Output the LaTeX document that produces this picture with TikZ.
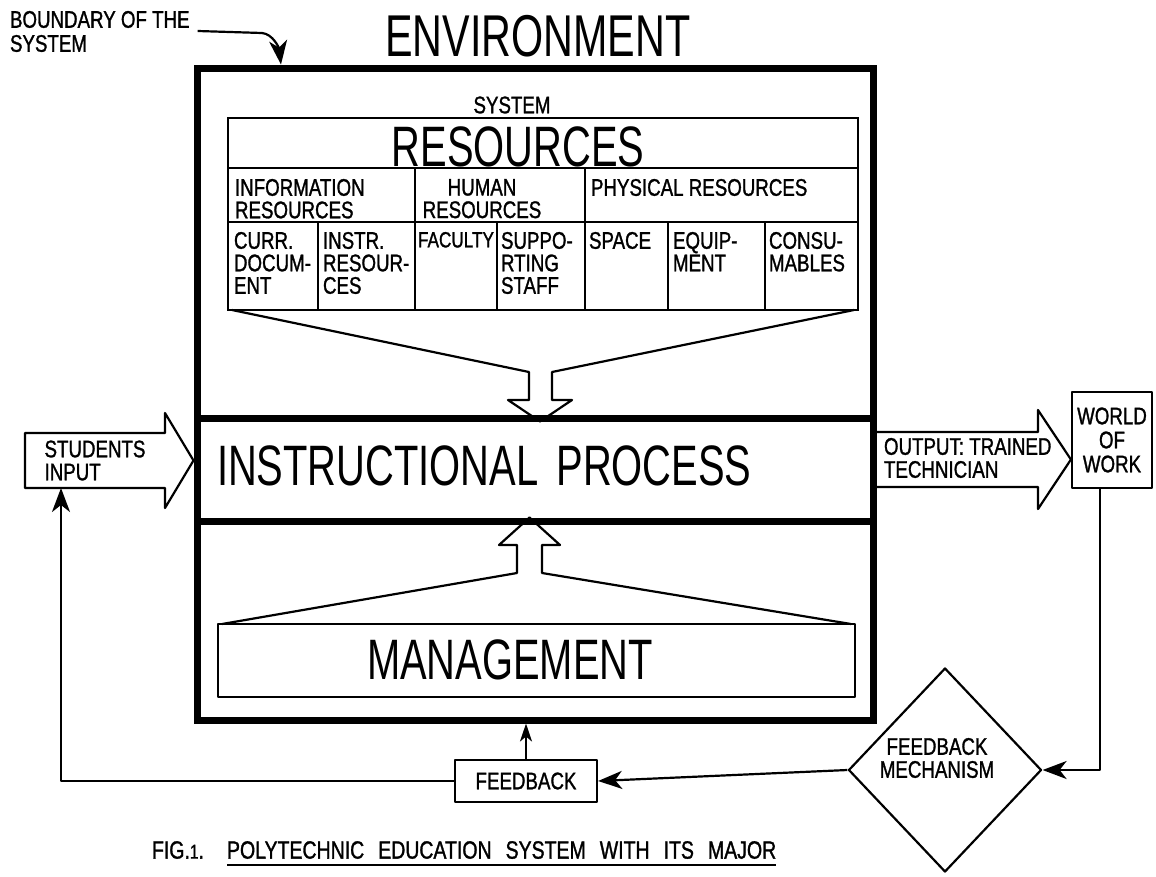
\documentclass[tikz,border=0pt]{standalone}
\usepackage{fontspec}
\setmainfont{Liberation Sans}[FakeStretch=0.78, FakeBold=1.2]
\newfontfamily\bigfam{Liberation Sans}[FakeStretch=0.7]
\usetikzlibrary{shapes.geometric,arrows.meta,calc}
\newcommand{\setsz}[2]{\fontsize{#1}{#2}\selectfont}
% a cell of the resources table, given by its corners
\newcommand{\tcell}[5]{\node[cellbox, minimum width={#4-#2}, minimum height={#5-#3}] (#1) at ({(#2+#4)/2},{(#3+#5)/2}) {};}
\begin{document}
\begin{tikzpicture}[x=1pt,y=-1pt,
  every node/.style={inner sep=0pt, outer sep=0pt},
  thinline/.style={line width=2.2pt, line join=round},
  heavyline/.style={line width=7pt},
  cellbox/.style={draw, line width=2pt},
  celltext/.style={align=left, font=\setsz{24}{22.5}},
  smalltext/.style={align=left, font=\setsz{24}{23}},
  bigtext/.style={font=\bigfam\setsz{57}{57}},
  fbarrow/.style={-{Stealth[length=24pt,width=18pt,inset=7pt]}},
  smallarrow/.style={-{Stealth[length=18pt,width=12pt,inset=5pt]}},
]
\useasboundingbox (0,0) rectangle (1156,876);

% label of the system boundary
\node[smalltext, anchor=north west] (blab1) at (10,11) {BOUNDARY OF THE};
\node[smalltext, anchor=north west] (blab2) at (10,35) {SYSTEM};

% environment and system boundary
\node[bigtext, font=\bigfam\setsz{59}{59}] (env) at (538,36) {ENVIRONMENT};
\node[draw, heavyline, minimum width=676, minimum height=652, outer sep=3.5pt] (sys) at (535,394) {};
\draw[thinline, fbarrow] ([xshift=8,yshift=-3]blab1.south east) -- (262,33)
  .. controls (273,34) and (279,48) .. ($(sys.north west)+(87.5,0)$);
\node[smalltext] (systx) at (512,105) {SYSTEM};

% resources table
\tcell{res}{228}{118}{858}{168}
\tcell{info}{228}{168}{415}{222}
\tcell{hum}{415}{168}{585}{222}
\tcell{phy}{585}{168}{858}{222}
\tcell{cur}{228}{222}{318}{310}
\tcell{ins}{318}{222}{415}{310}
\tcell{fac}{415}{222}{497}{310}
\tcell{sup}{497}{222}{585}{310}
\tcell{spa}{585}{222}{668}{310}
\tcell{equ}{668}{222}{765}{310}
\tcell{con}{765}{222}{858}{310}
\node[bigtext] (restx) at (518,147) {RESOURCES};
\node[celltext, anchor=north west] (infotx) at ([xshift=7,yshift=-11]info.north west) {INFORMATION\\RESOURCES};
\node[celltext, align=center, anchor=north] (humtx) at (482,179) {HUMAN\\RESOURCES};
\node[celltext, anchor=north west] (phytx) at ([xshift=6,yshift=-11]phy.north west) {PHYSICAL RESOURCES};
\node[celltext, anchor=north west] (curtx) at ([xshift=6,yshift=-10]cur.north west) {CURR.\\DOCUM-\\ENT};
\node[celltext, anchor=north west] (instx) at ([xshift=5,yshift=-10]ins.north west) {INSTR.\\RESOUR-\\CES};
\node[celltext, font=\setsz{22}{22}, anchor=north west] (factx) at ([xshift=3,yshift=-10]fac.north west) {FACULTY};
\node[celltext, anchor=north west] (suptx) at ([xshift=4,yshift=-10]sup.north west) {SUPPO-\\RTING\\STAFF};
\node[celltext, anchor=north west] (spatx) at ([xshift=4,yshift=-10]spa.north west) {SPACE};
\node[celltext, anchor=north west] (equtx) at ([xshift=5,yshift=-10]equ.north west) {EQUIP-\\MENT};
\node[celltext, anchor=north west] (contx) at ([xshift=4,yshift=-10]con.north west) {CONSU-\\MABLES};

% instructional process band
\node[minimum width=676, minimum height=103] (ip) at (535,469.5) {};
\draw[heavyline] (ip.north west) -- (ip.north east);
\draw[heavyline] (ip.south west) -- (ip.south east);
\node[bigtext, anchor=west] (iptx) at (217,466) {INSTRUCTIONAL\hspace{18pt}PROCESS};

% resources flow into the instructional process
\draw[thinline] ([xshift=4]cur.south west) -- (529,372) -- (529,400) -- (508,400)
  -- ([yshift=-3.5]ip.north -| 540,0) -- (572,400) -- (552,400) -- (552,372)
  -- ([xshift=-4]con.south east);

% management
\node[draw, thinline, minimum width=637, minimum height=73] (mgmt) at (536.5,660.5) {};
\node[bigtext] (mgtx) at (510,660) {MANAGEMENT};
\draw[thinline] ([xshift=4]mgmt.north west) -- (517,573) -- (517,545) -- (499,545)
  -- ([yshift=3.5]ip.south -| 529.5,0) -- (560,545) -- (542,545) -- (542,573)
  -- ([xshift=-4]mgmt.north east);

% students input
\node[smalltext, minimum width=140, minimum height=55] (sin) at (95,460.5) {STUDENTS\\INPUT};
\draw[thinline] (sin.north east) -- (sin.north west) -- (sin.south west) -- (sin.south east)
  -- (165,508) -- (sin.east -| sys.west) -- (165,413) -- cycle;

% world of work
\node[draw, thinline, minimum width=80, minimum height=96, align=center,
  font=\setsz{24}{24}, outer sep=1.1pt] (wow) at (1112,440) {WORLD\\OF\\WORK};

% output
\node[minimum width=161.5, minimum height=55] (out) at (957.25,459.5) {};
\draw[thinline] (out.north west) -- (out.north east) -- (1038,410) -- (wow.west |- out.east)
  -- (1038,509) -- (out.south east) -- (out.south west);
\node[smalltext, anchor=west] (outtx) at (884,458) {OUTPUT: TRAINED\\TECHNICIAN};

% feedback
\node[diamond, draw, thinline, minimum width=193, minimum height=204, outer sep=1.1pt] (fm) at (945,770) {};
\node[smalltext, align=center] (fmtx) at (937,758) {FEEDBACK\\MECHANISM};
\node[draw, thinline, minimum width=142, minimum height=42, font=\setsz{24}{24}, outer sep=1.1pt] (fb) at (526,781) {FEEDBACK};

\draw[thinline, fbarrow] ([xshift=-12]wow.south) |- (fm.east);
\draw[thinline, fbarrow] (fm.west) -- (fb.east);
\draw[thinline, smallarrow] (fb.north) -- (fb.north |- sys.south);
\draw[thinline, fbarrow] (fb.west) -| ([xshift=36]sin.south west);

% caption
\node[font=\setsz{25}{25}, anchor=west] (capfig) at (152,850) {FIG.{\setsz{20}{20}1}.};
\node[font={\setsz{25}{25}\spaceskip=14pt\relax}, anchor=west] (captx) at (227,850) {POLYTECHNIC EDUCATION SYSTEM WITH ITS MAJOR};
\draw[thinline] ([yshift=-6]captx.south west) -- ([yshift=-6]captx.south east);
\end{tikzpicture}
\end{document}
